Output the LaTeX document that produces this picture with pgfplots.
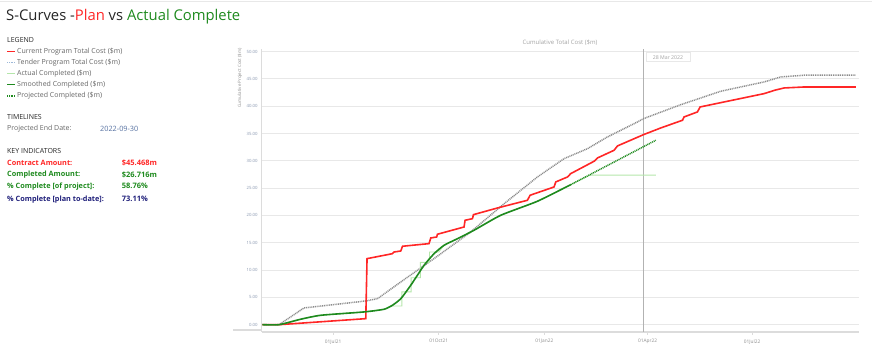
\documentclass[border=0pt]{standalone}
\usepackage{pgfplots}
\pgfplotsset{compat=1.18}
\usepackage{fontspec}
\setmainfont{Open Sans}
\definecolor{cred}{HTML}{FF2626}
\definecolor{cgreen}{HTML}{1E8A1E}
\definecolor{clgreen}{HTML}{B4E6AA}
\definecolor{cgreyd}{HTML}{8C8C8C}
\definecolor{cblued}{HTML}{9DB8D8}
\definecolor{cdark}{HTML}{262626}
\definecolor{cnavy}{HTML}{1F1F7A}
\definecolor{cdate}{HTML}{5570A0}
\definecolor{ctext}{HTML}{666666}
\definecolor{ctick}{HTML}{8C8C8C}
\definecolor{cytick}{HTML}{8A98B0}
\definecolor{gridg}{HTML}{E8E8E8}
\definecolor{lineg}{HTML}{DCDCDC}
\newcommand{\fs}[1]{\fontsize{#1}{#1}\selectfont}
\begin{document}
\begin{tikzpicture}[x=1pt,y=1pt]
\path[use as bounding box] (0,0) rectangle (872,350);
\draw[gridg,line width=1pt] (0,348.5) -- (872,348.5);
% Title
\node[anchor=base west,inner sep=0,text=cdark] at (6,329) {\fs{14.8}S-Curves -\textcolor{cred}{Plan} vs \textcolor{cgreen}{Actual Complete}};
% Legend
\node[anchor=west,inner sep=0,text=cdark] at (7,310) {\fs{7}LEGEND};
\draw[cred,line width=1.5pt] (7,298.3) -- (15,298.3);
\node[anchor=west,inner sep=0,text=ctext] at (17,298.3) {\fs{7}Current Program Total Cost (\$m)};
\draw[cblued,line width=1.5pt,dash pattern=on 1pt off 0.8pt] (7,287.7) -- (15,287.7);
\node[anchor=west,inner sep=0,text=ctext] at (17,287.7) {\fs{7}Tender Program Total Cost (\$m)};
\draw[clgreen,line width=1.2pt] (7,276.3) -- (15,276.3);
\node[anchor=west,inner sep=0,text=ctext] at (17,276.3) {\fs{7}Actual Completed (\$m)};
\draw[cgreen,line width=1.5pt] (7,265.3) -- (15,265.3);
\node[anchor=west,inner sep=0,text=ctext] at (17,265.3) {\fs{7}Smoothed Completed (\$m)};
\draw[cgreen,line width=1.5pt,dash pattern=on 1pt off 0.8pt] (7,254) -- (15,254);
\node[anchor=west,inner sep=0,text=ctext] at (17,254) {\fs{7}Projected Completed (\$m)};
% Timelines
\node[anchor=west,inner sep=0,text=cdark] at (7,232.7) {\fs{7}TIMELINES};
\node[anchor=west,inner sep=0,text=ctext] at (7,221) {\fs{7}Projected End Date:};
\node[anchor=west,inner sep=0,text=cdate] at (100,221) {\fs{7.3}2022-09-30};
% Key indicators
\node[anchor=west,inner sep=0,text=cdark] at (7,199.3) {\fs{7}KEY INDICATORS};
\node[anchor=west,inner sep=0,text=cred] at (7,186.7) {\fs{7.3}\bfseries Contract Amount:};
\node[anchor=west,inner sep=0,text=cred] at (121.7,186.7) {\fs{7.5}\bfseries \$45.468m};
\node[anchor=west,inner sep=0,text=cgreen] at (7,175) {\fs{7.3}\bfseries Completed Amount:};
\node[anchor=west,inner sep=0,text=cgreen] at (121.7,175) {\fs{7.5}\bfseries \$26.716m};
\node[anchor=west,inner sep=0,text=cgreen] at (7,163.7) {\fs{7.3}\bfseries \% Complete [of project]:};
\node[anchor=west,inner sep=0,text=cgreen] at (121.7,163.7) {\fs{7.5}\bfseries 58.76\%};
\node[anchor=west,inner sep=0,text=cnavy] at (7,150.7) {\fs{7.3}\bfseries \% Complete [plan to-date]:};
\node[anchor=west,inner sep=0,text=cnavy] at (121.7,150.7) {\fs{7.5}\bfseries 73.11\%};
% Chart
\begin{axis}[
  at={(228,33)}, anchor=south west,
  scale only axis, width=597pt, height=283pt,
  xmin=-62.1, xmax=457.9, ymin=-1.34, ymax=50.49,
  axis x line=bottom, axis y line=left,
  axis line style={-,draw=lineg,line width=1.2pt},
  xtick={0,92,184,274,365},
  xticklabels={01Jul21,01Oct21,01Jan22,01Apr22,01Jul22},
  ytick={0,5,...,50},
  yticklabel={\pgfmathprintnumber[fixed,fixed zerofill,precision=2]{\tick}},
  /pgf/number format/assume math mode=true,
  xticklabel style={font=\fs{4.8},text=ctick,yshift=-1pt},
  yticklabel style={font=\fs{4.3},text=cytick,inner sep=1pt},
  tick align=outside, major tick length=3pt,
  xtick style={draw=lineg,line width=0.8pt},
  ytick style={draw=none},
  ymajorgrids=true,
  major grid style={draw=gridg,line width=1pt},
  clip=false,
]
\addplot[draw=lightgray!80!gray,line width=0.9pt] coordinates {(270,-1.34) (270,50.49)};
\addplot[draw=cgreyd,line width=1.5pt,dash pattern=on 1pt off 0.8pt] coordinates {
(-61.5,0) (-47,0) (-25.3,3.06) (28.5,4.34) (38.7,4.76) (59,7.82) (90,12.4) (119.9,16.98) (149,22.16) (178,27.05) (201.2,30.4) (221.6,32.23) (239,34.38) (265.2,37.13) (270.4,37.73) (302.9,40.29) (337.7,42.75) (375.4,44.45) (390,45.37) (410.3,45.68) (455.3,45.68)};
\addplot[draw=clgreen,line width=0.9pt] coordinates {
(-61.5,0) (-47,0) (-28.1,1.0) (-10.7,1.72) (27,2.33) (44.4,2.82) (50,3.42) (60,3.42) (60,6.0) (68,6.0) (68,8.6) (76,8.6) (76,11.4) (84,11.4) (84,13.3) (92,13.3) (96.7,14.54) (108.4,15.75) (122.8,17.29) (146.1,20.04) (178,22.6) (207,25.64) (224,27.4) (281.1,27.4)};
\addplot[draw=cred,line width=1.6pt] coordinates {
(-61.5,0) (-47,0) (28.5,1.1) (29.6,12.09) (51.7,13.0) (53.1,13.3) (59,13.5) (60.5,14.36) (83.6,14.84) (85.1,15.88) (90.3,16.06) (90.9,16.56) (114.1,17.89) (115,19.12) (121.4,19.41) (122.3,20.15) (143.2,21.37) (169.3,22.78) (171.6,23.7) (192.5,25.22) (194,26.14) (204.2,27.05) (207,27.66) (227.4,29.93) (230.3,30.53) (244.8,31.94) (247.7,32.73) (270.4,34.8) (285.5,36.03) (304.4,37.44) (305.7,38.04) (317.4,38.96) (319.7,39.87) (375.4,42.31) (385,42.95) (392.9,43.35) (410.3,43.53) (455.3,43.53)};
\addplot[draw=cgreen,line width=1.6pt,smooth,tension=0.35] coordinates {
(-61.5,0) (-47,0) (-28.1,1.0) (-10.7,1.72) (27,2.33) (44.4,2.82) (51.7,3.55) (59,4.76) (67.7,7.22) (79.3,10.88) (88,13.0) (96.7,14.54) (108.4,15.75) (122.8,17.29) (146.1,20.04) (178,22.6) (207,25.64)};
\addplot[draw=cgreen,line width=1.5pt,dash pattern=on 1pt off 0.8pt] coordinates {(207,25.64) (281.1,33.77)};
\end{axis}
\draw[lineg,line width=1.2pt] (233,20) -- (261,20);
\node[text=ctick!80,inner sep=0] at (560,307.3) {\fs{6}Cumulative Total Cost (\$m)};
\node[draw=gridg,fill=white,line width=0.6pt,minimum width=44pt,minimum height=9pt,inner sep=0,text=ctick!80] at (668,292.8) {\fs{5.2}28 Mar 2022};
\node[rotate=90,inner sep=0,text=ctick] at (240,272) {\fs{4.45}Cumulative Project Cost (\$m)};
\end{tikzpicture}
\end{document}
